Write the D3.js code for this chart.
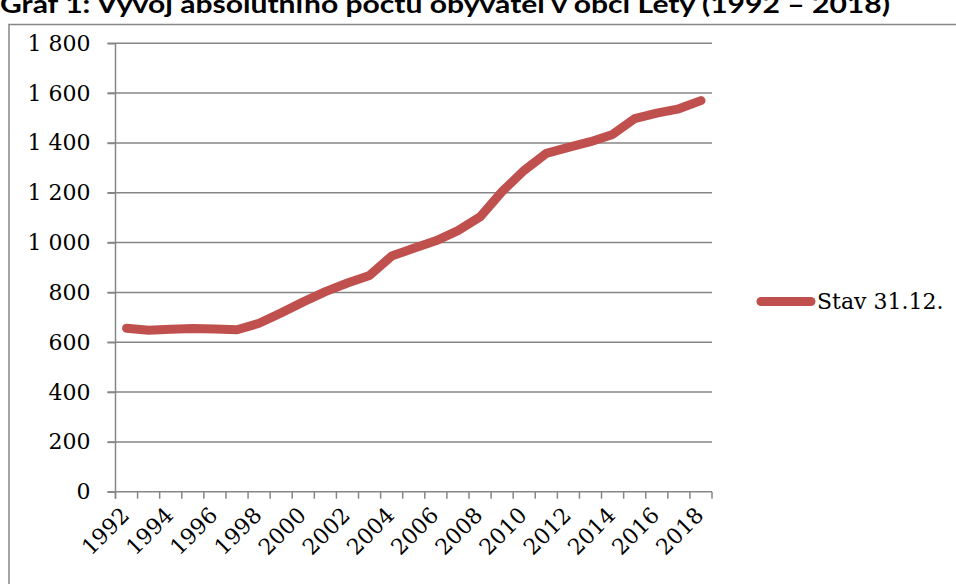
<!DOCTYPE html>
<html><head><meta charset="utf-8">
<script src="https://cdn.jsdelivr.net/npm/d3@7"></script>
<style>html,body{margin:0;padding:0;background:#fff;overflow:hidden}</style>
</head><body>
<script>
const titleText = "Graf 1: Vývoj absolutního počtu obyvatel v obci Lety (1992 – 2018)";
const years = [1992,1993,1994,1995,1996,1997,1998,1999,2000,2001,2002,2003,2004,2005,2006,2007,2008,2009,2010,2011,2012,2013,2014,2015,2016,2017,2018];
const population = [656,648,652,655,653,650,676,718,762,803,838,868,946,977,1007,1048,1103,1205,1290,1358,1382,1405,1434,1498,1520,1537,1570];
const yTicks = [0,200,400,600,800,1000,1200,1400,1600,1800];
const labelYears = [1992,1994,1996,1998,2000,2002,2004,2006,2008,2010,2012,2014,2016,2018];
const seriesName = "Stav 31.12.";

const W = 956, H = 584;
const svg = d3.select("body").append("svg").attr("width", W).attr("height", H);

// chart border
svg.append("rect").attr("x", 9).attr("y", 24.5).attr("width", 1000).attr("height", 700)
  .attr("fill", "none").attr("stroke", "#868686").attr("stroke-width", 1.5);

// title (cut off at the top, as in the reference)
svg.append("text").attr("x", 0).attr("y", 13)
  .attr("font-family", "Lato, 'Open Sans', sans-serif").attr("font-weight", "bold")
  .attr("font-size", 24).attr("fill", "#000")
  .attr("textLength", 890).attr("lengthAdjust", "spacingAndGlyphs")
  .text(titleText);

const x0 = 115.5, x1 = 712, yTop = 43.3, yBot = 491.7;
const x = d3.scaleBand().domain(years).range([x0, x1]).padding(0);
const y = d3.scaleLinear().domain([0, 1800]).range([yBot, yTop]);
const fmt = d3.formatLocale({decimal: ",", thousands: " ", grouping: [3], currency: ["", ""]}).format(",d");
const font = "'DejaVu Serif', serif";
const grid = "#868686";

// gridlines
svg.append("g").selectAll("line").data(yTicks).join("line")
  .attr("x1", x0 - 8).attr("x2", x1).attr("y1", d => y(d)).attr("y2", d => y(d))
  .attr("stroke", grid).attr("stroke-width", 1.5);

// y axis
const yAxis = svg.append("g").attr("transform", `translate(${x0},0)`)
  .call(d3.axisLeft(y).tickValues(yTicks).tickFormat(fmt).tickSize(8).tickPadding(17));
yAxis.select(".domain").remove();
yAxis.selectAll(".tick line").attr("stroke", grid).attr("stroke-width", 1.5);
yAxis.selectAll("text").attr("font-family", font).attr("font-size", 22).attr("fill", "#000");
svg.append("line").attr("x1", x0).attr("x2", x0).attr("y1", yTop).attr("y2", yBot + 7)
  .attr("stroke", grid).attr("stroke-width", 1.5);

// x axis ticks at category boundaries
const bounds = years.map(d => x(d)).concat([x1]);
svg.append("g").selectAll("line").data(bounds).join("line")
  .attr("x1", d => d).attr("x2", d => d).attr("y1", yBot).attr("y2", yBot + 7)
  .attr("stroke", grid).attr("stroke-width", 1.5);

// x labels
svg.append("g").selectAll("text").data(labelYears).join("text")
  .attr("transform", d => `translate(${x(d) + x.bandwidth()/2 + 4},${yBot + 25}) rotate(-45)`)
  .attr("text-anchor", "end")
  .attr("font-family", font).attr("font-size", 22).attr("fill", "#000")
  .text(d => d);

// line
const line = d3.line().x((d, i) => x(years[i]) + x.bandwidth()/2).y(d => y(d));
svg.append("path").datum(population).attr("d", line)
  .attr("fill", "none").attr("stroke", "#C0504D").attr("stroke-width", 9)
  .attr("stroke-linecap", "round").attr("stroke-linejoin", "round");

// legend
svg.append("line").attr("x1", 761).attr("x2", 811).attr("y1", 301.5).attr("y2", 301.5)
  .attr("stroke", "#C0504D").attr("stroke-width", 9).attr("stroke-linecap", "round");
svg.append("text").attr("x", 817).attr("y", 309)
  .attr("font-family", font).attr("font-size", 22).attr("fill", "#000")
  .text(seriesName);
</script>
</body></html>
